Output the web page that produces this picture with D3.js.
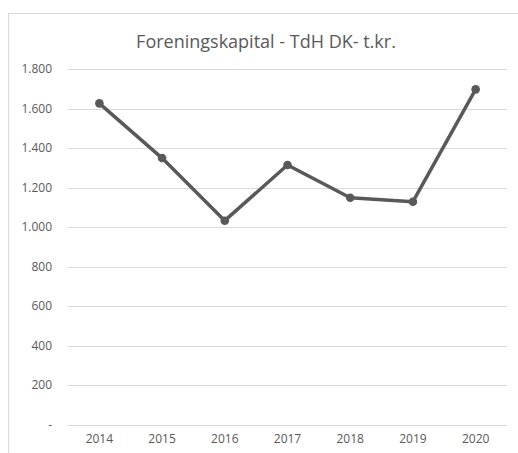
<html>
<head></head>
<body style="margin:0;background:#fff">
<svg id="chart" width="518" height="453"></svg>
<script src="https://d3js.org/d3.v7.min.js"></script>
<script>
    // data
    let years = ["2014", "2015", "2016", "2017", "2018", "2019", "2020"]
    let capital = [1626, 1349, 1032, 1314, 1148, 1128, 1697]
    let yTicks = [0, 200, 400, 600, 800, 1000, 1200, 1400, 1600, 1800]
    let yTickLabels = ["-", "200", "400", "600", "800", "1.000", "1.200", "1.400", "1.600", "1.800"]
    let title = "Foreningskapital - TdH DK- t.kr."

    let svg = d3.select("#chart")
    let font = "Open Sans, sans-serif"
    let grey = "#595959"

    // outer chart frame
    svg.append("rect")
        .attr("x", 8.5).attr("y", 13.5)
        .attr("width", 520).attr("height", 460)
        .attr("fill", "white")
        .attr("stroke", "#d9d9d9")

    svg.append("text")
        .attr("x", 266).attr("y", 48)
        .attr("text-anchor", "middle")
        .attr("font-family", font)
        .attr("font-size", "18px")
        .attr("fill", grey)
        .text(title)

    let x = d3.scaleBand().domain(years).range([68, 507])
    let y = d3.scaleLinear().domain([0, 1800]).range([424.5, 69])

    // gridlines
    svg.append("g").selectAll("line")
        .data(yTicks)
        .join("line")
        .attr("x1", 68).attr("x2", 507)
        .attr("y1", d => Math.round(y(d)) + 0.5)
        .attr("y2", d => Math.round(y(d)) + 0.5)
        .attr("stroke", "#d9d9d9")
        .attr("stroke-width", 1)

    let yAxis = d3.axisLeft(y)
        .tickValues(yTicks)
        .tickFormat((d, i) => yTickLabels[i])
        .tickSize(0)
        .tickPadding(16)
    svg.append("g")
        .attr("transform", "translate(68,0)")
        .call(yAxis)
        .call(g => g.select(".domain").remove())
        .call(g => g.selectAll("text")
            .attr("font-family", font)
            .attr("font-size", "12px")
            .attr("fill", grey))

    let xAxis = d3.axisBottom(x).tickSize(0).tickPadding(10)
    svg.append("g")
        .attr("transform", "translate(0,424.5)")
        .call(xAxis)
        .call(g => g.select(".domain").remove())
        .call(g => g.selectAll("text")
            .attr("font-family", font)
            .attr("font-size", "12px")
            .attr("fill", grey))

    let cx = d => x(d) + x.bandwidth() / 2
    let line = d3.line()
        .x((d, i) => cx(years[i]))
        .y(d => y(d))

    svg.append("path")
        .datum(capital)
        .attr("d", line)
        .attr("fill", "none")
        .attr("stroke", grey)
        .attr("stroke-width", 3.5)
        .attr("stroke-linejoin", "round")

    svg.append("g").selectAll("circle")
        .data(capital)
        .join("circle")
        .attr("cx", (d, i) => cx(years[i]))
        .attr("cy", d => y(d))
        .attr("r", 4.3)
        .attr("fill", grey)
</script>
</body>
</html>
